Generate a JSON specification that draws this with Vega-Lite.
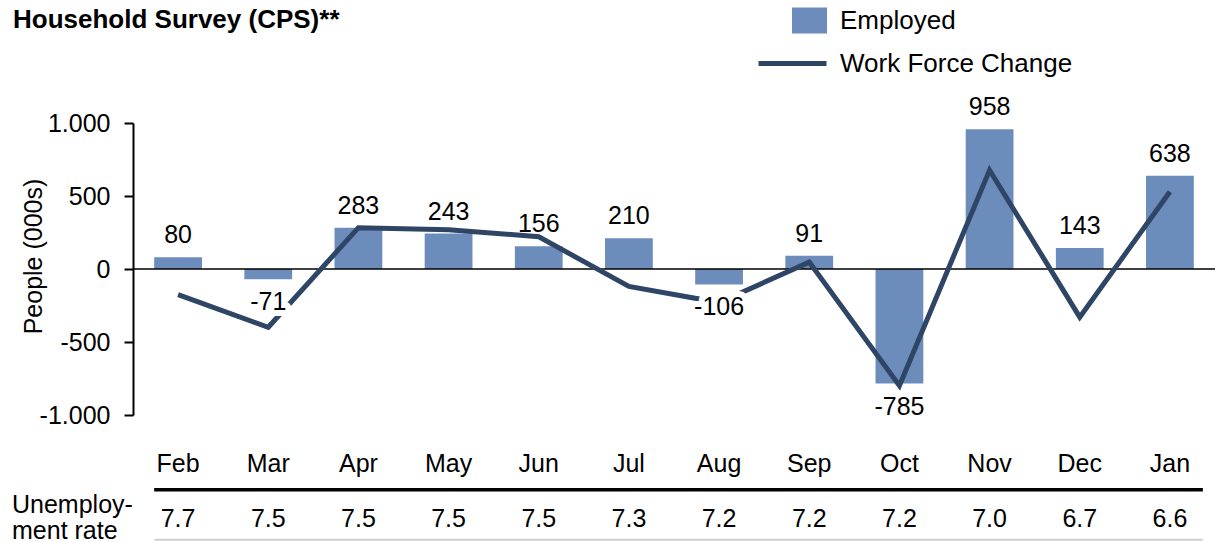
{
  "$schema": "https://vega.github.io/schema/vega-lite/v6.json",
  "width": 1082,
  "height": 292,
  "autosize": {"type": "none"},
  "padding": {"left": 133, "top": 123, "right": 0, "bottom": 127},
  "background": "white",
  "config": {
    "font": "Liberation Sans",
    "view": {"stroke": null},
    "axisY": {
      "domainColor": "black", "domainWidth": 2,
      "tickColor": "black", "tickWidth": 2, "tickSize": 9,
      "labelFontSize": 25, "labelColor": "black", "labelPadding": 14,
      "labelFont": "Liberation Sans",
      "grid": false,
      "titleFontSize": 25, "titleFontWeight": "normal", "titleColor": "black",
      "titleFont": "Liberation Sans",
      "titleX": -100, "titleY": 133, "titleAlign": "center", "titleBaseline": "middle", "titleAngle": -90
    }
  },
  "title": {
    "text": "Household Survey (CPS)**",
    "anchor": "start", "frame": "group",
    "fontSize": 26, "fontWeight": "bold", "color": "black", "font": "Liberation Sans",
    "dx": -120, "offset": -30
  },
  "data": {
    "values": [
      {"month": "Feb", "emp": 80, "wfc": -176, "rate": "7.7"},
      {"month": "Mar", "emp": -71, "wfc": -399, "rate": "7.5"},
      {"month": "Apr", "emp": 283, "wfc": 283, "rate": "7.5"},
      {"month": "May", "emp": 243, "wfc": 269, "rate": "7.5"},
      {"month": "Jun", "emp": 156, "wfc": 221, "rate": "7.5"},
      {"month": "Jul", "emp": 210, "wfc": -119, "rate": "7.3"},
      {"month": "Aug", "emp": -106, "wfc": -230, "rate": "7.2"},
      {"month": "Sep", "emp": 91, "wfc": 47, "rate": "7.2"},
      {"month": "Oct", "emp": -785, "wfc": -800, "rate": "7.2"},
      {"month": "Nov", "emp": 958, "wfc": 677, "rate": "7.0"},
      {"month": "Dec", "emp": 143, "wfc": -330, "rate": "6.7"},
      {"month": "Jan", "emp": 638, "wfc": 529, "rate": "6.6"}
    ]
  },
  "layer": [
    {
      "mark": {"type": "bar"},
      "encoding": {
        "x": {"field": "month", "type": "nominal", "sort": null, "scale": {"paddingInner": 0.47, "paddingOuter": 0.235}, "axis": null},
        "y": {"field": "emp", "type": "quantitative", "title": "People (000s)", "scale": {"domain": [-1000, 1000], "nice": false},
              "axis": {"values": [-1000, -500, 0, 500, 1000], "labelExpr": "(datum.value < 0 ? '-' : '') + replace(format(abs(datum.value), ','), ',', '.')"}},
        "fill": {"datum": "Employed", "type": "nominal", "scale": {"range": ["#6c8dbb"]},
                 "legend": {"orient": "none", "legendX": 659, "legendY": -120, "title": null, "padding": 0,
                            "symbolType": "M-1,-0.743H1V0.743H-1Z", "symbolSize": 1225, "symbolStrokeWidth": 0,
                            "labelFontSize": 26, "labelColor": "black", "labelOffset": 13, "labelLimit": 400, "labelFont": "Liberation Sans"}}
      }
    },
    {
      "data": {"values": [{}]},
      "mark": {"type": "rule", "color": "black", "strokeWidth": 1.5},
      "encoding": {"y": {"datum": 0, "type": "quantitative", "title": "People (000s)",
              "axis": {"values": [-1000, -500, 0, 500, 1000], "labelExpr": "(datum.value < 0 ? '-' : '') + replace(format(abs(datum.value), ','), ',', '.')"}}}
    },
    {
      "mark": {"type": "line", "strokeWidth": 5, "strokeCap": "butt"},
      "encoding": {
        "x": {"field": "month", "type": "nominal", "sort": null, "axis": null},
        "y": {"field": "wfc", "type": "quantitative", "title": "People (000s)",
              "axis": {"values": [-1000, -500, 0, 500, 1000], "labelExpr": "(datum.value < 0 ? '-' : '') + replace(format(abs(datum.value), ','), ',', '.')"}},
        "stroke": {"datum": "Work Force Change", "type": "nominal", "scale": {"range": ["#2f4566"]},
                   "legend": {"orient": "none", "legendX": 623, "legendY": -96, "title": null, "padding": 0,
                              "symbolType": "stroke", "symbolSize": 4624, "symbolStrokeWidth": 5,
                              "labelFontSize": 26, "labelColor": "black", "labelOffset": 11, "labelLimit": 400, "labelFont": "Liberation Sans"}}
      }
    },
    {
      "transform": [{"filter": "datum.emp < 0"}],
      "mark": {"type": "text", "fontSize": 25, "baseline": "alphabetic", "align": "center", "dy": 31, "stroke": "white", "strokeWidth": 12, "strokeJoin": "round", "fill": "white"},
      "encoding": {
        "x": {"field": "month", "type": "nominal", "sort": null, "axis": null},
        "y": {"field": "emp", "type": "quantitative", "title": "People (000s)",
              "axis": {"values": [-1000, -500, 0, 500, 1000], "labelExpr": "(datum.value < 0 ? '-' : '') + replace(format(abs(datum.value), ','), ',', '.')"}},
        "text": {"field": "emp", "type": "nominal"}
      }
    },
    {
      "transform": [{"filter": "datum.emp < 0"}],
      "mark": {"type": "text", "fontSize": 25, "baseline": "alphabetic", "align": "center", "dy": 31, "color": "black"},
      "encoding": {
        "x": {"field": "month", "type": "nominal", "sort": null, "axis": null},
        "y": {"field": "emp", "type": "quantitative", "title": "People (000s)",
              "axis": {"values": [-1000, -500, 0, 500, 1000], "labelExpr": "(datum.value < 0 ? '-' : '') + replace(format(abs(datum.value), ','), ',', '.')"}},
        "text": {"field": "emp", "type": "nominal"}
      }
    },
    {
      "transform": [{"filter": "datum.emp >= 0"}],
      "mark": {"type": "text", "fontSize": 25, "baseline": "alphabetic", "align": "center", "dy": -14, "color": "black"},
      "encoding": {
        "x": {"field": "month", "type": "nominal", "sort": null, "axis": null},
        "y": {"field": "emp", "type": "quantitative", "title": "People (000s)",
              "axis": {"values": [-1000, -500, 0, 500, 1000], "labelExpr": "(datum.value < 0 ? '-' : '') + replace(format(abs(datum.value), ','), ',', '.')"}},
        "text": {"field": "emp", "type": "nominal"}
      }
    },
    {
      "mark": {"type": "text", "fontSize": 25, "baseline": "alphabetic", "align": "center", "color": "black"},
      "encoding": {
        "x": {"field": "month", "type": "nominal", "sort": null, "axis": null},
        "y": {"datum": -1388, "type": "quantitative", "title": "People (000s)",
              "axis": {"values": [-1000, -500, 0, 500, 1000], "labelExpr": "(datum.value < 0 ? '-' : '') + replace(format(abs(datum.value), ','), ',', '.')"}},
        "text": {"field": "month", "type": "nominal"}
      }
    },
    {
      "mark": {"type": "text", "fontSize": 25, "baseline": "alphabetic", "align": "center", "color": "black"},
      "encoding": {
        "x": {"field": "month", "type": "nominal", "sort": null, "axis": null},
        "y": {"datum": -1764, "type": "quantitative", "title": "People (000s)",
              "axis": {"values": [-1000, -500, 0, 500, 1000], "labelExpr": "(datum.value < 0 ? '-' : '') + replace(format(abs(datum.value), ','), ',', '.')"}},
        "text": {"field": "rate", "type": "nominal"}
      }
    },
    {
      "data": {"values": [{}]},
      "mark": {"type": "rule", "color": "black", "strokeWidth": 3.5},
      "encoding": {
        "x": {"datum": "Feb", "type": "nominal", "bandPosition": 0, "axis": null},
        "x2": {"datum": "Jan", "bandPosition": 1.19},
        "y": {"datum": -1512, "type": "quantitative", "title": "People (000s)",
              "axis": {"values": [-1000, -500, 0, 500, 1000], "labelExpr": "(datum.value < 0 ? '-' : '') + replace(format(abs(datum.value), ','), ',', '.')"}}
      }
    },
    {
      "data": {"values": [{}]},
      "mark": {"type": "rule", "color": "#d0d0d0", "strokeWidth": 2},
      "encoding": {
        "x": {"datum": "Feb", "type": "nominal", "bandPosition": 0, "axis": null},
        "x2": {"datum": "Jan", "bandPosition": 1.19},
        "y": {"datum": -1854, "type": "quantitative", "title": "People (000s)",
              "axis": {"values": [-1000, -500, 0, 500, 1000], "labelExpr": "(datum.value < 0 ? '-' : '') + replace(format(abs(datum.value), ','), ',', '.')"}}
      }
    },
    {
      "data": {"values": [{}]},
      "mark": {"type": "text", "fontSize": 25, "baseline": "alphabetic", "align": "left", "color": "black", "lineHeight": 26, "text": ["Unemploy-", "ment rate"]},
      "encoding": {
        "x": {"value": -121},
        "y": {"datum": -1670, "type": "quantitative", "title": "People (000s)",
              "axis": {"values": [-1000, -500, 0, 500, 1000], "labelExpr": "(datum.value < 0 ? '-' : '') + replace(format(abs(datum.value), ','), ',', '.')"}}
      }
    }
  ]
}
